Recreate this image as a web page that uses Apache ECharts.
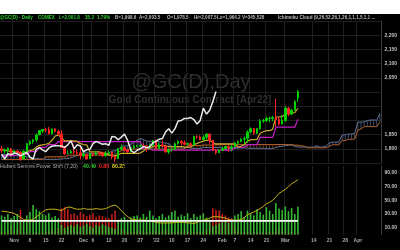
<!DOCTYPE html>
<html><head><meta charset="utf-8">
<script src="https://cdn.jsdelivr.net/npm/echarts/dist/echarts.min.js"></script>
<style>html,body{margin:0;padding:0;background:#fff}#c{width:400px;height:250px}</style>
</head><body><div id="c"></div>
<script>
// ---- categories (trading days) ----
const startDate = '2021-10-26';
const dayCount = 121;
const dates = [];
(function(){ const d = new Date(startDate + 'T00:00:00Z');
  while (dates.length < dayCount) { const w = d.getUTCDay(); if (w !== 0 && w !== 6) dates.push(d.toISOString().slice(0,10)); d.setUTCDate(d.getUTCDate() + 1); } })();

const tickDates = ['2021-11-01','2021-11-08','2021-11-15','2021-11-22','2021-12-01','2021-12-06','2021-12-13','2021-12-20','2021-12-27','2022-01-03','2022-01-10','2022-01-17','2022-01-24','2022-02-01','2022-02-07','2022-02-14','2022-02-21','2022-03-01','2022-03-14','2022-03-21','2022-03-28','2022-04-01'];
const tickTexts = ['Nov','8','15','22','Dec','6','13','20','27',"'22",'10','17','24','Feb','7','14','21','Mar','14','21','28','Apr'];

// ---- price data ----
const opens = [1800,1792,1796,1800,1784,1792,1787,1765,1792,1817,
1826,1831,1850,1863,1868,1867,1853,1870,1861,1852,
1806,1783,1785,1791,1786,1786,1776,1780,1765,1783,
1780,1786,1784,1776,1783,1787,1771,1765,1799,1804,
1796,1791,1803,1809,1810,1811,1810,1806,1814,1829,
1800,1814,1810,1789,1797,1798,1818,1826,1821,1816,
1818,1813,1843,1842,1832,1841,1852,1829,1795,1786,
1795,1801,1808,1804,1807,1821,1826,1834,1837,1859,
1871,1855,1871,1898,1900,1907,1907,1910,1903,1888,
1900,1943,1922,1936,1978.5];
const highs = [1810,1801,1805,1803,1796,1795,1792,1795,1820,1830,
1834,1854,1866,1870,1874,1877,1871,1873,1867,1866,
1808,1794,1796,1815,1797,1807,1793,1783,1786,1787,
1793,1791,1790,1792,1794,1791,1776,1803,1815,1807,
1799,1806,1813,1812,1816,1819,1810,1816,1831,1833,
1821,1829,1811,1800,1804,1822,1830,1830,1829,1822,
1822,1846,1848,1847,1847,1854,1853,1831,1800,1799,
1806,1810,1811,1813,1823,1829,1837,1843,1865,1875,
1873,1873,1904,1905,1913,1914,1916,1976,1912,1918,
1950,1947,1941,1972,2007.5];
const lows = [1785,1783,1781,1772,1779,1781,1758,1761,1782,1812,
1818,1825,1847,1855,1858,1850,1851,1857,1845,1803,
1778,1782,1783,1780,1778,1762,1770,1762,1764,1773,
1777,1777,1772,1772,1780,1763,1753,1764,1795,1790,
1785,1787,1801,1806,1805,1805,1789,1797,1810,1798,
1799,1806,1786,1782,1790,1797,1814,1812,1812,1814,
1805,1811,1835,1830,1830,1833,1818,1792,1780,1786,
1794,1799,1789,1791,1805,1815,1823,1814,1821,1855,
1848,1852,1867,1891,1895,1894,1897,1878,1882,1885,
1895,1915,1919,1933,1964.2];
const closes = [1793,1797,1802,1783,1793,1788,1764,1792,1818,1825,
1832,1849,1864,1868,1867,1854,1870,1862,1852,1805,
1782,1784,1790,1788,1785,1776,1781,1764,1783,1779,
1785,1783,1775,1782,1787,1771,1764,1799,1804,1796,
1790,1803,1809,1811,1811,1810,1805,1814,1828,1800,
1814,1810,1789,1797,1798,1818,1826,1821,1816,1818,
1812,1843,1842,1832,1841,1852,1829,1795,1786,1795,
1800,1808,1804,1807,1821,1826,1834,1836,1859,1871,
1855,1871,1898,1900,1907,1907,1910,1903,1887,1900,
1943,1922,1936,1966,2001.8];

// ---- Ichimoku lines ----
const tenkan = [1795,1795,1793,1790,1790,1788,1786,1786,1789,1794,
1796,1806,1812,1814,1816,1819,1830,1845,1848,1840,
1828,1828,1828,1828,1826,1818,1815,1814,1789,1789,
1789,1789,1785,1785,1778,1778,1774,1778,1784,1784,
1784,1784,1784,1784,1785,1792,1802,1802,1808,1810,
1811,1811,1810,1808,1808,1808,1808,1808,1806,1806,
1806,1814,1819,1823,1827,1830,1830,1823,1817,1817,
1817,1817,1817,1817,1817,1806,1809,1815,1827,1832,
1832,1833,1855,1860,1864,1864,1869,1912,1912,1914,
1922,1927,1927,1927,1942.8];
const kijun = [1776,1776,1776,1776,1776,1780,1780,1780,1780,1790,
1790,1790,1805,1805,1805,1815,1815,1815,1825,1825,
1825,1825,1825,1825,1825,1825,1825,1825,1825,1825,
1825,1825,1825,1825,1825,1825,1825,1825,1825,1825,
1825,1825,1825,1825,1825,1800,1800,1800,1795,1795,
1795,1795,1795,1795,1795,1795,1795,1795,1795,1795,
1795,1795,1795,1795,1795,1795,1795,1795,1795,1795,
1795,1795,1795,1795,1805,1805,1805,1805,1815,1815,
1815,1815,1840,1840,1840,1840,1840,1876,1876,1876,
1876,1876,1876,1876,1904];
const spanA = [1780,1780,1779,1778,1777,1776,1775,1774,1772,1770,
1768,1766,1765,1764,1763,1762,1762,1762,1763,1764,
1765,1766,1768,1772,1776,1781,1785.5,1785.5,1784.5,1783,
1783,1784,1783,1783,1784.5,1792,1793,1798,1808.5,1809.5,
1810.5,1817,1822.5,1830,1836.5,1832.5,1826.5,1826.5,1826.5,1826.5,
1825.5,1821.5,1820,1819.5,1807,1807,1807,1807,1805,1805,
1801.5,1801.5,1799.5,1801.5,1804.5,1804.5,1804.5,1804.5,1804.5,1804.5,
1805,1796,1801,1801,1801.5,1802.5,1803,1803,1802.5,1801.5,
1801.5,1801.5,1801.5,1801.5,1800.5,1800.5,1800.5,1804.5,1807,1809,
1811,1812.5,1812.5,1809,1806,1806,1806,1806,1806,1806,
1811,1805.5,1807,1810,1821,1823.5,1823.5,1824,1847.5,1850,
1852,1852,1854.5,1894,1894,1895,1899,1901.5,1901.5,1901.5,
1923.5];
const spanB = [1762,1762,1762,1762,1762,1762,1762,1762,1762,1762,
1762,1762,1762,1762,1772,1772,1772,1772,1772,1772,
1772,1777.5,1777.5,1777.5,1777.5,1777.5,1777.5,1777.5,1777.5,1777.5,
1777.5,1777.5,1777.5,1777.5,1777.5,1777.5,1777.5,1787.5,1793.5,1795.5,
1797.5,1799,1799,1799,1799,1799,1799,1799,1799,1799,
1799,1799,1799,1799,1799,1799,1799,1799,1799,1811.5,
1811.5,1811.5,1811.5,1811.5,1813.5,1813.5,1813.5,1813.5,1815,1815,
1815,1815,1815,1815,1815,1815,1815,1815,1815,1815,
1815,1815,1815,1815,1815,1815,1815,1815,1815,1815,
1815,1815,1815,1813,1813,1810,1809.5,1803.5,1803.5,1803.5,
1803.5,1803.5,1803.5,1803.5,1809,1814,1814,1814,1828.5,1829,
1833,1833.5,1834.5,1864.5,1870,1878,1878,1878,1878,1878,
1894];

// ---- Power Shift panel ----
const powerGreen = [28,26,30,24,27,30,22,20,28,33,
43,37,34,30,28,31,25,27,24,14,
10,12,14,12,15,11,13,16,12,10,
14,12,15,13,11,10,8,20,24,26,
22,25,27,28,25,30,26,35,28,24,
27,30,25,28,33,35,26,29,27,31,
24,30,26,28,31,25,22,12,14,16,
18,20,17,22,28,30,34,26,35,31,
28,37,33,29,40,35,30,46,38,36,
41,34,39,30,40.49];
const powerRed = [5,4,6,12,5,8,36,4,3,2,
2,3,2,4,5,6,8,6,10,38,
40,37,30,31,28,33,30,27,29,31,
26,28,27,25,24,30,35,22,8,6,
5,4,3,4,6,5,4,3,5,6,
4,5,8,6,4,3,5,4,6,4,
7,3,4,5,4,6,18,38,36,35,
30,28,25,24,10,6,4,5,3,2,
6,3,2,4,3,5,4,8,10,6,
2,5,3,2,0.88];
const powerLine = [34,34,33,32,31,28,25,22,21,21,
22,26,29,33,36,37,37,37,36,35,
38,40,40,38,37,37,38,37,37,37,
38,37,37,38,40,42,43,40,35,30,
26,23,22,21,21,21,21,20,19,18,
17,17,17,17,17,18,18,18,18,17,
17,16,18,20,21,22,24,26,26,26,
25,24,22,21,21,21,22,25,29,31,
33,35,38,41,45,47,50,55,60,63,
66,70,74,77,80.22];
const powerRefLevel = 20;
const powerAxisLabels = [10,30,50,70,90];

// ---------------------------------------------------
const FONT = '"Liberation Sans", Arial, sans-serif';
const tickMap = {}; tickDates.forEach((d,i)=>{ tickMap[d] = tickTexts[i]; });
const isTick = (idx) => tickMap[dates[idx]] !== undefined;
const hiddenPrice = {2000:1, 1950:1, 1900:1};

function tagLabel(text, bg, fg) {
  return { show: true, position: 'end', distance: 1, formatter: text,
    backgroundColor: bg, color: fg, fontSize: 5, fontWeight: 'bold', fontFamily: FONT,
    padding: [1, 1.5, 0.5, 1.5], borderRadius: 2 };
}
function valueTag(v, text, bg, fg) {
  return { silent: true, symbol: ['none','none'], animation: false,
    lineStyle: { opacity: 0 }, label: tagLabel(text, bg, fg), data: [{ yAxis: v }] };
}

const chart = echarts.init(document.getElementById('c'), null, { renderer: 'canvas' });
const gridLine = { show: true, lineStyle: { color: '#1f1f1f', width: 1 } };

const headerTokens = [
  ['@GC(D) - Daily', 0, '#2ed12e'], ['COMEX', 38, '#2ed12e'], ['L=2,001.8', 59, '#2ed12e'],
  ['35.2', 85, '#2ed12e'], ['1.79%', 97, '#2ed12e'],
  ['B=1,998.6', 115, '#b8b8b8'], ['A=2,003.5', 139, '#b8b8b8'], ['O=1,978.5', 167, '#b8b8b8'],
  ['Hi=2,007.5', 194, '#b8b8b8'], ['Lo=1,964.2', 217, '#b8b8b8'], ['V=345,528', 242, '#b8b8b8'],
  ['Ichimoku Cloud (9,26,52,26,1,26,1,1,1,5,1,1 ...', 278, '#b8b8b8']
];
const graphics = [
  { type: 'rect', shape: { x: 0, y: 0, width: 400, height: 14 }, style: { fill: '#ffffff' }, silent: true },
  { type: 'text', x: 191, y: 82, style: { text: '@GC(D),Day', fill: '#2f2f2f', font: '20px ' + FONT, textAlign: 'center', textVerticalAlign: 'middle' }, silent: true },
  { type: 'text', x: 190, y: 100, style: { text: 'Gold Continuous Contract [Apr22]', fill: '#2f2f2f', font: 'bold 10px ' + FONT, textAlign: 'center', textVerticalAlign: 'middle' }, silent: true },
  { type: 'text', x: 0, y: 166.5, style: { text: 'Hubert Senters Power Shift (7,20)', fill: '#b0b0b0', font: '5.2px ' + FONT, textVerticalAlign: 'middle' }, silent: true },
  { type: 'text', x: 83, y: 166.5, style: { text: '40.49', fill: '#2ed12e', font: 'bold 5.2px ' + FONT, textVerticalAlign: 'middle' }, silent: true },
  { type: 'text', x: 99, y: 166.5, style: { text: '0.88', fill: '#ff2a2a', font: 'bold 5.2px ' + FONT, textVerticalAlign: 'middle' }, silent: true },
  { type: 'text', x: 112, y: 166.5, style: { text: '80.22', fill: '#e0d020', font: 'bold 5.2px ' + FONT, textVerticalAlign: 'middle' }, silent: true }
];
headerTokens.forEach(t => graphics.push({ type: 'text', x: t[1], y: 17.5, silent: true,
  style: { text: t[0], fill: t[2], font: 'bold 4.6px ' + FONT, textVerticalAlign: 'middle' } }));

function renderHatch(params, api) {
  const i = api.value(0), a = api.value(1), b = api.value(2);
  const p1 = api.coord([i, a]), p2 = api.coord([i, b]);
  return { type: 'line', shape: { x1: p1[0], y1: p1[1], x2: p2[0], y2: p2[1] },
    style: { stroke: a >= b ? '#3d4c68' : '#6e3a1a', lineWidth: 1 } };
}

const lastIdx = closes.length - 1;

chart.setOption({
  animation: false,
  backgroundColor: '#000000',
  graphic: graphics,
  grid: [
    { left: 0, right: 15, top: 21, height: 142 },
    { left: 0, right: 15, top: 166, height: 68.6 }
  ],
  xAxis: [
    { type: 'category', gridIndex: 0, data: dates, boundaryGap: true,
      axisLine: { show: false }, axisTick: { show: false }, axisLabel: { show: false },
      splitLine: { show: true, interval: (i) => isTick(i), lineStyle: { color: '#1f1f1f' } } },
    { type: 'category', gridIndex: 1, data: dates, boundaryGap: true,
      axisLine: { show: false }, axisTick: { show: false },
      axisLabel: { show: true, interval: (i) => isTick(i), formatter: (v) => tickMap[v] || '',
        color: '#a8a8a8', fontSize: 5, fontWeight: 'bold', fontFamily: FONT, margin: 4 },
      splitLine: { show: true, interval: (i) => isTick(i), lineStyle: { color: '#1f1f1f' } } }
  ],
  yAxis: [
    { type: 'value', gridIndex: 0, position: 'right', min: 1750, max: 2250, interval: 50,
      axisLine: { show: true, lineStyle: { color: '#3a3a3a' } }, axisTick: { show: false },
      axisLabel: { showMinLabel: false, showMaxLabel: false, color: '#c4c4c4', fontSize: 5, fontWeight: 'bold', fontFamily: FONT, margin: 3,
        formatter: (v) => hiddenPrice[v] ? '' : v.toLocaleString('en-US') },
      splitLine: gridLine },
    { type: 'value', gridIndex: 1, position: 'right', min: 0, max: 100,
      axisLine: { show: true, lineStyle: { color: '#3a3a3a' } }, axisTick: { show: false },
      axisLabel: { customValues: powerAxisLabels, color: '#c4c4c4', fontSize: 5, fontWeight: 'bold', fontFamily: FONT, margin: 3,
        formatter: (v) => Number(v).toFixed(2) },
      splitLine: { show: false } }
  ],
  series: [
    { type: 'custom', xAxisIndex: 0, yAxisIndex: 0, renderItem: renderHatch, clip: true, silent: true, z: 1,
      encode: { x: 0, y: [1, 2] }, data: spanA.map((a, j) => [j, a, spanB[j]]) },
    { type: 'line', xAxisIndex: 0, yAxisIndex: 0, data: spanA, symbol: 'none', silent: true, z: 2,
      lineStyle: { color: '#5d6f92', width: 1 } },
    { type: 'line', xAxisIndex: 0, yAxisIndex: 0, data: spanB, symbol: 'none', silent: true, z: 2,
      lineStyle: { color: '#b3622b', width: 1 } },
    { type: 'line', xAxisIndex: 0, yAxisIndex: 0, data: kijun, symbol: 'none', silent: true, z: 3,
      lineStyle: { color: '#c41fc4', width: 1.2 }, markLine: valueTag(1904, '1,904', '#ff33ff', '#000') },
    { type: 'line', xAxisIndex: 0, yAxisIndex: 0, data: tenkan, symbol: 'none', silent: true, z: 3,
      lineStyle: { color: '#c9ab2e', width: 1.2 }, markLine: valueTag(1942.8, '1,943', '#e8e820', '#000') },
    { type: 'candlestick', xAxisIndex: 0, yAxisIndex: 0, barWidth: 2, silent: true, z: 4,
      data: opens.map((o, i) => [o, closes[i], lows[i], highs[i]]),
      itemStyle: { color: '#00d200', color0: '#ff2424', borderColor: '#00d200', borderColor0: '#ff2424', borderWidth: 1 },
      markLine: valueTag(2001.8, '2,001', '#1ec81e', '#000') },
    { type: 'line', xAxisIndex: 0, yAxisIndex: 0, data: closes.slice(26), symbol: 'none', silent: true, z: 5,
      lineStyle: { color: '#e8e8e8', width: 1.5 } },

    { type: 'bar', xAxisIndex: 1, yAxisIndex: 1, data: powerRed, barWidth: 1.6, silent: true, z: 2,
      itemStyle: { color: '#c21d1d' }, markLine: valueTag(0.88, '0.88', '#ff2020', '#fff') },
    { type: 'bar', xAxisIndex: 1, yAxisIndex: 1, data: powerGreen, barWidth: 1.6, barGap: '-100%', silent: true, z: 3,
      itemStyle: { color: '#34b834' }, markLine: valueTag(40.49, '40.49', '#1ec81e', '#000') },
    // white reference level of the Power Shift panel
    { type: 'line', xAxisIndex: 1, yAxisIndex: 1, symbol: 'none', silent: true, z: 6, zlevel: 0,
      data: [[dates[0], powerRefLevel], [dates[lastIdx], powerRefLevel]],
      lineStyle: { color: '#ffffff', width: 1.6, opacity: 1 } },
    { type: 'line', xAxisIndex: 1, yAxisIndex: 1, data: powerLine, symbol: 'none', silent: true, z: 5,
      lineStyle: { color: '#c8b418', width: 1 }, markLine: valueTag(80.22, '80.22', '#e8e820', '#000') }
  ]
});
</script></body></html>
